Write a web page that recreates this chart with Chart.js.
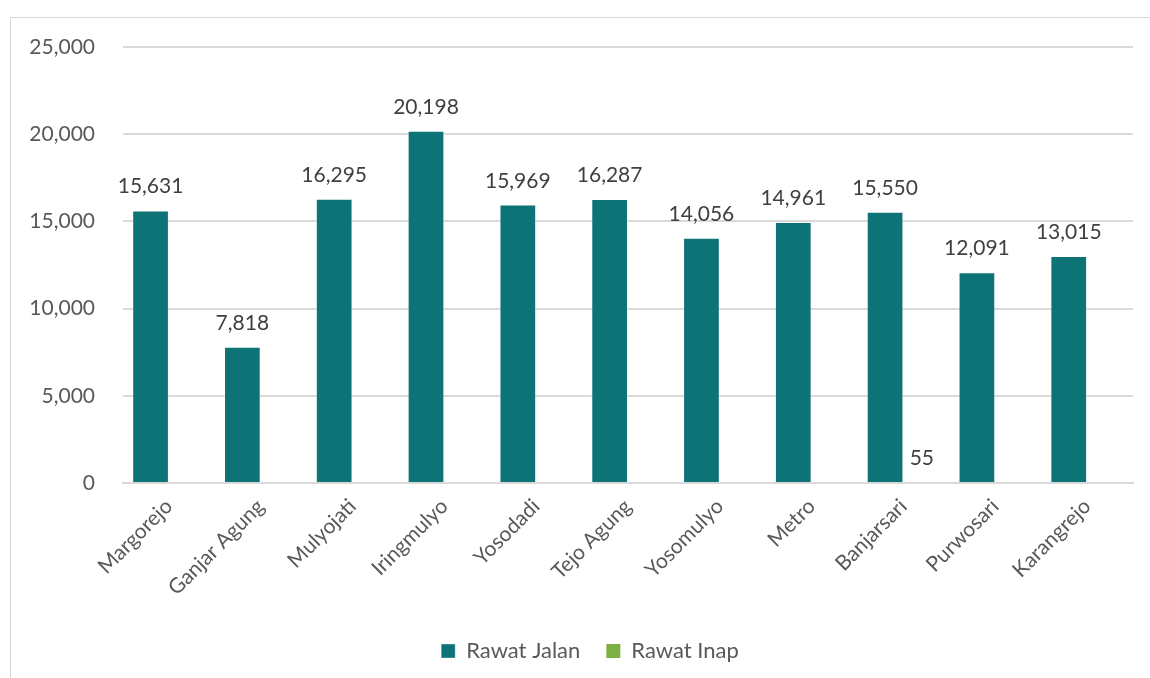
<!DOCTYPE html>
<html>
<head>
<meta charset="utf-8">
<script src="https://cdn.jsdelivr.net/npm/chart.js@4.4.1/dist/chart.umd.min.js"></script>
<style>
  html, body { margin: 0; padding: 0; background: #fff; overflow: hidden; }
  #frame {
    position: absolute; left: 10px; top: 17px;
    width: 1160px; height: 680px;
    border: 1px solid #d9d9d9;
  }
  #wrap { position: absolute; left: 0; top: 0; width: 1158px; height: 660px; }
</style>
</head>
<body>
<div id="frame">
  <div id="wrap"><canvas id="kunjungan"></canvas></div>
</div>
<script>
"use strict";

// puskesmas per wilayah
const wilayah = ['Margorejo', 'Ganjar Agung', 'Mulyojati', 'Iringmulyo', 'Yosodadi',
                 'Tejo Agung', 'Yosomulyo', 'Metro', 'Banjarsari', 'Purwosari', 'Karangrejo'];

// jumlah kunjungan
const rawatJalan = [15631, 7818, 16295, 20198, 15969, 16287, 14056, 14961, 15550, 12091, 13015];
const rawatInap  = [null, null, null, null, null, null, null, null, 55, null, null];

const yTicks = [0, 5000, 10000, 15000, 20000, 25000];

const fontName = 'Lato, "Open Sans", sans-serif';
const fmt = v => v.toLocaleString('en-US');

// tulis angka di atas setiap batang
const labelAtas = {
    id: 'labelAtas',
    afterDatasetsDraw(chart) {
        const c = chart.ctx;
        c.save();
        c.font = '21px ' + fontName;
        c.fillStyle = '#404040';
        c.textAlign = 'center';
        c.textBaseline = 'alphabetic';
        chart.data.datasets.forEach((ds, i) => {
            chart.getDatasetMeta(i).data.forEach((bar, j) => {
                const v = ds.data[j];
                if (v === null || v === undefined) return;
                c.fillText(fmt(v), bar.x, bar.y - 17);
            });
        });
        c.restore();
    }
};

new Chart(document.querySelector('#kunjungan'), {
    type: 'bar',
    data: {
        labels: wilayah,
        datasets: [{
            label: 'Rawat Jalan',
            data: rawatJalan,
            backgroundColor: '#0e7377',
            borderColor: 'rgba(255,255,255,0.35)',
            borderWidth: 1
        }, {
            label: 'Rawat Inap',
            data: rawatInap,
            backgroundColor: '#7cb043',
            borderWidth: 0
        }]
    },
    options: {
        responsive: true,
        maintainAspectRatio: false,
        animation: false,
        layout: { padding: { top: 29, right: 0, bottom: 6, left: 0 } },
        datasets: { bar: { categoryPercentage: 0.8, barPercentage: 1.0 } },
        scales: {
            x: {
                grid: { display: false },
                border: { display: true, color: '#d9d9d9', width: 2 },
                ticks: {
                    color: '#595959',
                    font: { family: fontName, size: 21 },
                    minRotation: 45,
                    maxRotation: 45,
                    padding: 3
                },
                afterFit(axis) {
                    axis.height = 131;
                    // ruang kosong di kanan area plot
                    axis.paddingLeft = 0;
                    axis.paddingRight = 36;
                }
            },
            y: {
                min: 0,
                max: 25000,
                afterBuildTicks(axis) { axis.ticks = yTicks.map(v => ({ value: v })); },
                grid: { color: '#d9d9d9', lineWidth: 2, drawTicks: false },
                border: { display: false },
                ticks: {
                    color: '#595959',
                    font: { family: fontName, size: 21 },
                    padding: 28,
                    callback: v => fmt(v)
                },
                afterFit(axis) {
                    axis.width = 112;
                    axis.paddingTop = 0;
                    axis.paddingBottom = 0;
                }
            }
        },
        plugins: {
            legend: {
                position: 'bottom',
                labels: {
                    color: '#595959',
                    font: { family: fontName, size: 22 },
                    boxWidth: 14,
                    boxHeight: 14,
                    padding: 26
                }
            },
            tooltip: { enabled: false }
        }
    },
    plugins: [labelAtas]
});
</script>
</body>
</html>
